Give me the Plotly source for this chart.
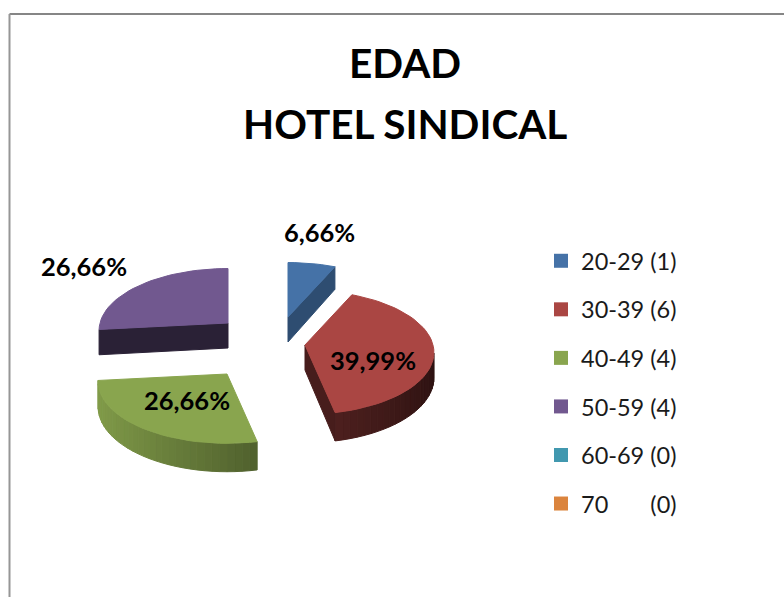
import math
import plotly.graph_objects as go

# ---- data ----
categories = ["20-29 (1)", "30-39 (6)", "40-49 (4)", "50-59 (4)", "60-69 (0)", "70\u00a0\u00a0\u00a0\u00a0\u00a0\u00a0\u00a0(0)"]
counts = [1, 6, 4, 4, 0, 0]
pct_labels = ["6,66%", "39,99%", "26,66%", "26,66%"]

# ---- style / layout ----
colors = ["#4572A7", "#AA4643", "#89A54E", "#71588F", "#4198AF", "#DB843D"]
FONT = "Lato"
W, H = 784, 597
RX, RY, PERSP, DEPTH = 128, 61, 0.12, 25
apex = [(288, 317), (305, 345), (227, 374), (228, 323)]      # exploded slice hubs on screen
cut_shade = [0.68, 0.42, 0.6, 0.38]
arc_shade = [1.0, 0.78, 1.0, 1.0]
label_pos = [(319, 232), (373, 360), (187, 400), (84, 266)]


def shade(hex_color, f):
    r, g, b = (int(hex_color[i:i + 2], 16) for i in (1, 3, 5))
    return f"rgb({int(r * f)},{int(g * f)},{int(b * f)})"


def project(hub, theta):
    s = 1 / (1 + PERSP * math.cos(theta))
    return hub[0] + RX * math.sin(theta) * s, hub[1] - RY * math.cos(theta) * s, s


def poly(fig, xs, ys, color):
    fig.add_trace(go.Scatter(
        x=xs + [xs[0]], y=ys + [ys[0]], mode="lines", fill="toself",
        fillcolor=color, line=dict(color=color, width=1),
        hoverinfo="skip", showlegend=False))


fig = go.Figure()
total = sum(counts)
start = 0.0
for i, v in enumerate(counts):
    if v == 0:
        continue
    end = start + v / total * 2 * math.pi
    hub = apex[i]
    n = max(6, int((end - start) / math.radians(3)))
    thetas = [start + (end - start) * k / n for k in range(n + 1)]
    arc = [project(hub, t) for t in thetas]
    # outline: hub -> arc -> hub, each with its own wall depth
    outline = [(hub[0], hub[1], 1.0, None)] + [(a[0], a[1], a[2], t) for a, t in zip(arc, thetas)] + [(hub[0], hub[1], 1.0, None)]
    # walls that face the viewer
    for p, q in zip(outline[:-1], outline[1:]):
        if q[0] - p[0] >= -1e-6:
            continue
        if p[3] is not None and q[3] is not None:
            mid = (p[3] + q[3]) / 2
            f = (0.65 - 0.3 * math.sin(mid)) * arc_shade[i]
        else:
            f = cut_shade[i]
        poly(fig,
             [p[0], q[0], q[0], p[0]],
             [p[1], q[1], q[1] + DEPTH * q[2], p[1] + DEPTH * p[2]],
             shade(colors[i], f))
    # top face
    poly(fig, [p[0] for p in outline[:-1]], [p[1] for p in outline[:-1]], colors[i])
    start = end

# legend entries
for name, c in zip(categories, colors):
    fig.add_trace(go.Scatter(
        x=[None], y=[None], mode="markers", name=name, legendgroup=name,
        marker=dict(symbol="square", size=14, color=c)))

annotations = [
    dict(x=405, y=62, text="<b>EDAD</b>", showarrow=False, xref="x", yref="y",
         font=dict(family=FONT, size=40.5, color="black")),
]
annotations.append(dict(x=405, y=123, text="<b>HOTEL SINDICAL</b>", showarrow=False, xref="x", yref="y",
                        font=dict(family=FONT, size=40.5, color="black")))
for t, (x, y) in zip(pct_labels, label_pos):
    annotations.append(dict(x=x, y=y, text=f"<b>{t}</b>", showarrow=False, xref="x", yref="y",
                            font=dict(family=FONT, size=25.5, color="black")))

fig.update_layout(
    width=W, height=H, margin=dict(l=0, r=0, t=0, b=0),
    paper_bgcolor="white", plot_bgcolor="white",
    xaxis=dict(range=[0, W], visible=False, fixedrange=True),
    yaxis=dict(range=[H, 0], visible=False, fixedrange=True),
    annotations=annotations,
    showlegend=True,
    legend=dict(x=541 / W, y=1 - 239 / H, xanchor="left", yanchor="top",
                font=dict(family=FONT, size=23.5, color="#1a1a1a"),
                tracegroupgap=15, itemwidth=30, bgcolor="rgba(0,0,0,0)"),
    shapes=[
        dict(type="line", xref="x", yref="y", x0=9.5, x1=784, y0=14, y1=14, line=dict(color="#868686", width=2)),
        dict(type="line", xref="x", yref="y", x0=9.5, x1=9.5, y0=14, y1=597, line=dict(color="#969696", width=2)),
    ],
)
fig.write_html("out.html", config={"displayModeBar": False},
               post_script="document.body.style.margin='0';document.body.style.overflow='hidden';")
